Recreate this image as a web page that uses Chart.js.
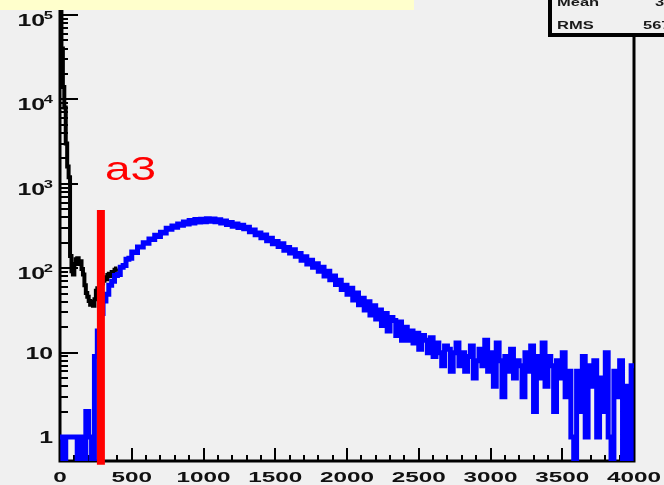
<!DOCTYPE html>
<html>
<head>
<meta charset="utf-8">
<title>Spektrum mit Schnitt a3</title>
<script src="https://cdn.jsdelivr.net/npm/chart.js@4.4.1/dist/chart.umd.min.js"></script>
<style>
    html, body { margin: 0; padding: 0; background: #f0f0f0; }
    canvas { display: block; }
</style>
</head>
<body>
<canvas id="histChart" width="664" height="485"></canvas>
<script>
(function() {
    'use strict';

    // Alle Ereignisse (schwarz), Binbreite 10, nur der sichtbare Anfang
    const allBinWidth = 10;
    const allCounts = [
        115000, 40000, 14000, 8000, 3000, 1600, 1200, 140, 92, 84,
        112, 128, 131, 112, 121, 98, 84, 63, 51, 46,
        41, 37, 40, 36, 43, 54, 58, 52, 61, 66,
        71, 78, 74, 83, 86, 81, 90, 88, 96, 99
    ];

    // Nach Schnitt a3 (blau), Binbreite 20
    const cutBinWidth = 20;
    const cutCounts = [
        1, 0, 1, 1, 1, 1, 0, 1, 0, 2,
        1, 0, 9, 18, 29, 41, 49, 63, 70, 82,
        84, 103, 108, 128, 131, 156, 154, 179, 178, 201,
        198, 222, 219, 245, 237, 266, 262, 297, 290, 316,
        306, 335, 322, 352, 333, 368, 344, 377, 352, 381,
        355, 386, 360, 383, 356, 374, 343, 362, 330, 347,
        315, 334, 303, 322, 293, 305, 271, 283, 250, 262,
        229, 247, 211, 226, 195, 207, 181, 195, 163, 176,
        151, 166, 139, 149, 124, 137, 112, 124, 103, 113,
        92, 103, 81, 92, 73, 81, 64, 72, 56, 63,
        49, 58, 42, 51, 37, 44, 32, 40, 28, 36,
        25, 32, 21, 29, 18, 26, 24, 16, 23, 14,
        20, 14, 18, 13, 17, 11, 16, 14, 10, 15,
        9, 13, 10, 7, 12, 11, 6, 10, 13, 7,
        10, 6, 9, 12, 5, 8, 11, 7, 14, 6,
        10, 4, 13, 8, 3, 9, 6, 11, 5, 8,
        7, 3, 10, 6, 12, 2, 9, 5, 13, 4,
        9, 7, 2, 8, 5, 10, 3, 6, 1, 0,
        6, 2, 9, 1, 7, 4, 8, 1, 5, 2,
        10, 1, 0, 6, 3, 8, 0, 4, 0, 7
    ];

    const xMin = 0;
    const xMax = 4000;
    const yMin = 0.52;
    const yMax = 150600;
    const zeroLevel = 0.3; // leere Bins unterhalb der Achse zeichnen

    const xTickValues = [0, 500, 1000, 1500, 2000, 2500, 3000, 3500, 4000];
    const xTickLabels = ['0', '500', '1000', '1500', '2000', '2500', '3000', '3500', '4000'];
    const yTickValues = [1, 10, 100, 1000, 10000, 100000];
    const yTickLabels = ['1', '10', '10', '10', '10', '10'];
    const yTickExponents = ['', '', '2', '3', '4', '5'];

    // Schnittlinie a3
    const cutPosition = 285;
    const cutLineRange = [490, 0.47];
    const cutLabel = 'a3';
    const cutLabelValue = 1100;

    // Statistik-Box (rechts oben abgeschnitten)
    const statsLabels = ['Mean', 'RMS'];
    const statsValues = ['3', '567'];

    const labelFont = 'bold 16px "Liberation Sans", Arial, sans-serif';
    const expFont = 'bold 11px "Liberation Sans", Arial, sans-serif';
    const xLabelFont = 'bold 15px "Liberation Sans", Arial, sans-serif';

    // Histogramm-Umriss: je Bin linke und rechte Kante
    function outline(counts, width) {
        const pts = [];
        counts.forEach(function(c, i) {
            const v = c > 0 ? c : zeroLevel;
            pts.push({ x: i * width, y: v });
            pts.push({ x: (i + 1) * width, y: v });
        });
        return pts;
    }

    // Text horizontal gestreckt wie im Original
    function wideText(ctx, text, x, y, align, font, sx) {
        ctx.save();
        ctx.font = font;
        ctx.textAlign = 'left';
        ctx.textBaseline = 'alphabetic';
        const w = ctx.measureText(text).width * sx;
        let left = x;
        if (align === 'center') left = x - w / 2;
        if (align === 'right') left = x - w;
        ctx.translate(left, y);
        ctx.scale(sx, 1);
        ctx.fillText(text, 0, 0);
        ctx.restore();
        return w;
    }

    const rootStyle = {
        id: 'rootStyle',
        beforeDraw(chart) {
            const ctx = chart.ctx;
            ctx.save();
            ctx.fillStyle = '#f0f0f0';
            ctx.fillRect(0, 0, chart.width, chart.height);
            ctx.restore();
        },
        beforeDatasetsDraw(chart) {
            const ctx = chart.ctx;
            const a = chart.chartArea;
            const x = chart.scales.x;
            const y = chart.scales.y;
            ctx.save();
            ctx.strokeStyle = '#000';
            ctx.lineWidth = 2;
            ctx.beginPath();
            for (let v = xMin; v <= xMax; v += 100) {
                const px = Math.round(x.getPixelForValue(v));
                const len = v % 500 === 0 ? 13 : 6;
                ctx.moveTo(px, a.bottom);
                ctx.lineTo(px, a.bottom - len);
            }
            for (let e = -1; e <= 5; e++) {
                for (let m = 1; m <= 9; m++) {
                    const v = m * Math.pow(10, e);
                    if (v < yMin || v > yMax) continue;
                    const py = Math.round(y.getPixelForValue(v));
                    const len = m === 1 ? 18 : 8;
                    ctx.moveTo(a.left, py);
                    ctx.lineTo(a.left + len, py);
                }
            }
            ctx.stroke();
            // Rahmen
            ctx.lineWidth = 3;
            ctx.beginPath();
            ctx.moveTo(a.left, a.top);
            ctx.lineTo(a.left, a.bottom);
            ctx.lineTo(a.right, a.bottom);
            ctx.lineTo(a.right, a.top);
            ctx.stroke();
            ctx.restore();
        },
        afterDraw(chart) {
            const ctx = chart.ctx;
            const a = chart.chartArea;
            const x = chart.scales.x;
            const y = chart.scales.y;

            ctx.save();
            ctx.fillStyle = '#111';
            // x-Beschriftung
            xTickValues.forEach(function(v, i) {
                wideText(ctx, xTickLabels[i], x.getPixelForValue(v), a.bottom + 21, 'center', xLabelFont, 1.62);
            });
            // y-Beschriftung mit Exponent
            yTickValues.forEach(function(v, i) {
                const py = y.getPixelForValue(v);
                if (yTickExponents[i]) {
                    wideText(ctx, yTickExponents[i], a.left - 7, py + 4, 'right', expFont, 1.5);
                    wideText(ctx, yTickLabels[i], a.left - 15, py + 11, 'right', labelFont, 1.55);
                } else {
                    wideText(ctx, yTickLabels[i], a.left - 7, py + 6, 'right', labelFont, 1.55);
                }
            });

            // Beschriftung der Schnittlinie
            ctx.fillStyle = '#ff0000';
            wideText(ctx, cutLabel, x.getPixelForValue(cutPosition) + 4, y.getPixelForValue(cutLabelValue), 'left',
                '34px "Liberation Sans", Arial, sans-serif', 1.35);

            // Titelfeld (gelb, abgeschnitten)
            ctx.fillStyle = '#ffffcc';
            ctx.fillRect(0, 0, 414, 10);

            // Statistik-Box
            ctx.fillStyle = '#f0f0f0';
            ctx.fillRect(550, 0, 114, 34);
            ctx.fillStyle = '#000';
            ctx.fillRect(548, 0, 4, 37);
            ctx.fillRect(548, 33, 116, 4);
            ctx.fillStyle = '#1a1a1a';
            const statsFont = 'bold 11px "Liberation Sans", Arial, sans-serif';
            wideText(ctx, statsLabels[0], 557, 6, 'left', statsFont, 1.5);
            wideText(ctx, statsLabels[1], 557, 29, 'left', statsFont, 1.5);
            wideText(ctx, statsValues[0], 655, 6, 'left', statsFont, 1.5);
            wideText(ctx, statsValues[1], 643, 29, 'left', statsFont, 1.5);
            ctx.restore();
        }
    };

    const canvas = document.getElementById('histChart');

    const config = {
        type: 'line',
        data: {
            datasets: [
                {
                    label: cutLabel,
                    data: [{ x: cutPosition, y: cutLineRange[0] }, { x: cutPosition, y: cutLineRange[1] }],
                    borderColor: '#ff0000',
                    borderWidth: 8,
                    borderCapStyle: 'butt',
                    pointRadius: 0,
                    clip: false
                },
                {
                    label: 'nach Schnitt',
                    data: outline(cutCounts, cutBinWidth),
                    borderColor: '#0000ff',
                    borderWidth: 5,
                    borderJoinStyle: 'miter',
                    tension: 0,
                    pointRadius: 0,
                    fill: false
                },
                {
                    label: 'alle',
                    data: outline(allCounts, allBinWidth),
                    borderColor: '#000000',
                    borderWidth: 4,
                    borderJoinStyle: 'miter',
                    tension: 0,
                    pointRadius: 0,
                    fill: false
                }
            ]
        },
        options: {
            responsive: false,
            devicePixelRatio: 1,
            animation: false,
            layout: {
                padding: { top: 0, right: 30, bottom: 24, left: 60 }
            },
            plugins: {
                legend: { display: false },
                tooltip: { enabled: false }
            },
            scales: {
                x: {
                    type: 'linear',
                    display: false,
                    min: xMin,
                    max: xMax
                },
                y: {
                    type: 'logarithmic',
                    display: false,
                    min: yMin,
                    max: yMax
                }
            }
        },
        plugins: [rootStyle]
    };

    new Chart(canvas, config);
})();
</script>
</body>
</html>
